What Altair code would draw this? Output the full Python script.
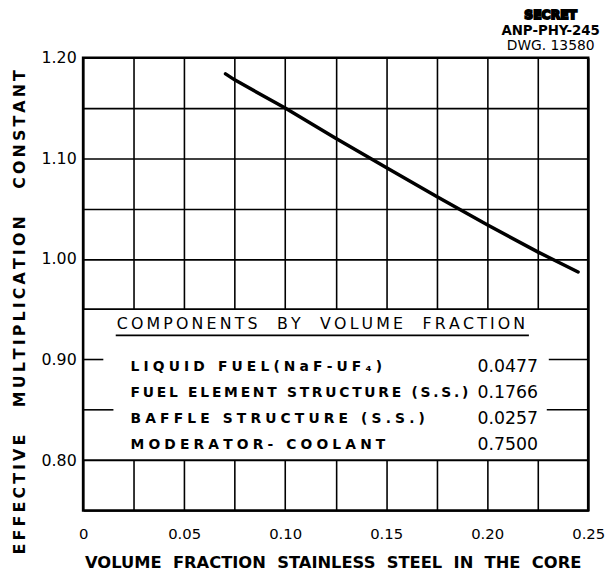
import altair as alt
import pandas as pd

# ---------------- data ----------------
steel_fraction = [0.0705, 0.075, 0.100, 0.125, 0.150, 0.175, 0.200, 0.225, 0.245]
k_effective = [1.184, 1.178, 1.150, 1.120, 1.091, 1.062, 1.034, 1.007, 0.987]

x_ticks = [0, 0.025, 0.05, 0.075, 0.10, 0.125, 0.15, 0.175, 0.20, 0.225, 0.25]
y_ticks = [0.75, 0.80, 0.85, 0.90, 0.95, 1.00, 1.05, 1.10, 1.15, 1.20]

table_title = "COMPONENTS BY VOLUME FRACTION"
components = ["LIQUID FUEL(NaF-UF\u2084)", "FUEL ELEMENT STRUCTURE (S.S.)",
              "BAFFLE STRUCTURE (S.S.)", "MODERATOR- COOLANT"]
fractions = ["0.0477", "0.1766", "0.0257", "0.7500"]

# table box sits between these grid rows; short grid stubs remain visible at its sides
box_x = [0.0, 0.25]
box_k = [0.80, 0.95]
stub_k = [0.90, 0.85, 0.90, 0.85]
stub_x0 = [0.0, 0.0, 0.2305, 0.2295]
stub_x1 = [0.010, 0.015, 0.25, 0.25]

stamp_lines = ["SECRET", "ANP-PHY-245", "DWG. 13580"]
x_title = "VOLUME FRACTION STAINLESS STEEL IN THE CORE"
y_title = "EFFECTIVE MULTIPLICATION CONSTANT"

# ---------------- styling ----------------
W, H = 511, 458
FONT = "DejaVu Sans"
NB = "\u00a0"
THIN = "\u2009"
HAIR = "\u200a"
GRID_W = 1.6


def spaced(text, letter_gap, word_gap):
    return word_gap.join(letter_gap.join(w) for w in text.split(" "))


x_scale = alt.Scale(domain=[0, 0.25], nice=False, zero=False)
y_scale = alt.Scale(domain=[0.75, 1.20], nice=False, zero=False)

x_axis = alt.Axis(
    values=x_ticks, grid=True, gridColor="black", gridWidth=GRID_W, gridOpacity=1,
    domain=False, ticks=False, labelFlush=False, labelOverlap=False,
    labelExpr="datum.value == 0 ? '0' : (abs(round(datum.value*1000) % 50) == 0 ? format(datum.value, '.2f') : '')",
    labelFont=FONT, labelFontSize=15, labelColor="black", labelPadding=16,
    title=spaced(x_title, "", NB + NB), titleFont=FONT, titleFontSize=16.5,
    titleFontWeight="bold", titleColor="black", titleX=W / 2 - 3, titleY=53,
    titleAlign="center", titleBaseline="middle",
)
y_axis = alt.Axis(
    values=y_ticks, grid=True, gridColor="black", gridWidth=GRID_W, gridOpacity=1,
    domain=False, ticks=False, labelOverlap=False,
    labelExpr="abs(round(datum.value*100) % 10) == 0 ? format(datum.value, '.2f') : ''",
    labelFont=FONT, labelFontSize=16, labelColor="black", labelPadding=7,
    title=spaced(y_title, THIN, NB * 5), titleFont=FONT, titleFontSize=16,
    titleFontWeight="bold", titleColor="black", titleAngle=270,
    titleX=-64, titleY=257, titleAlign="center", titleBaseline="middle",
)

X = lambda f: alt.X(f, scale=x_scale, axis=x_axis)
Y = lambda f: alt.Y(f, scale=y_scale, axis=y_axis)

one = pd.DataFrame({"a": [0]})

box = alt.Chart(pd.DataFrame({"x": [box_x[0]], "x_end": [box_x[1]],
                              "k": [box_k[0]], "k_end": [box_k[1]]})).mark_rect(
    fill="white", stroke="black", strokeWidth=GRID_W
).encode(x=X("x:Q"), x2="x_end:Q", y=Y("k:Q"), y2="k_end:Q")

stubs = alt.Chart(pd.DataFrame({"x": stub_x0, "x_end": stub_x1, "k": stub_k})).mark_rule(
    color="black", strokeWidth=GRID_W
).encode(x=X("x:Q"), x2="x_end:Q", y=Y("k:Q"))

curve = alt.Chart(pd.DataFrame({"x": steel_fraction, "k": k_effective})).mark_line(
    color="black", strokeWidth=3.5, strokeCap="round"
).encode(x=X("x:Q"), y=Y("k:Q"))

layers = [box, stubs, curve]

# table heading + underline
layers.append(alt.Chart(one).mark_text(
    text=spaced(table_title, THIN, THIN + NB * 2 + THIN + THIN), font=FONT, fontSize=16,
    align="left", baseline="middle", color="black"
).encode(x=alt.value(34), y=alt.value(269)))
layers.append(alt.Chart(one).mark_rule(color="black", strokeWidth=1.8).encode(
    x=alt.value(33), x2=alt.value(451), y=alt.value(281)))

# table rows
row_y0, row_dy = 313, 26.3
row_letter_gap = [THIN + HAIR, THIN, THIN + HAIR, THIN + HAIR]
for i, (name, frac) in enumerate(zip(components, fractions)):
    yy = row_y0 + i * row_dy
    lg = row_letter_gap[i]
    layers.append(alt.Chart(one).mark_text(
        text=spaced(name, lg, lg + NB + lg), font=FONT, fontSize=14,
        fontWeight="bold", align="left", baseline="middle", color="black"
    ).encode(x=alt.value(48), y=alt.value(yy)))
    layers.append(alt.Chart(one).mark_text(
        text=frac, font=FONT, fontSize=17.5, align="left", baseline="middle",
        color="black"
    ).encode(x=alt.value(399), y=alt.value(yy)))

# drawing stamp, top right
stamp_y = [-43, -27, -12]
stamp_style = [dict(fontSize=12.5, fontWeight="bold", stroke="black", strokeWidth=1.8),
               dict(fontSize=13.5, fontWeight="bold"),
               dict(fontSize=14, fontWeight="normal")]
for txt, yy, st in zip(stamp_lines, stamp_y, stamp_style):
    layers.append(alt.Chart(one).mark_text(
        text=txt, font=FONT, align="center", baseline="middle", color="black", **st
    ).encode(x=alt.value(473), y=alt.value(yy)))

# plot frame on top
layers.append(alt.Chart(one).mark_rect(
    fill="transparent", stroke="black", strokeWidth=2.6
).encode(x=alt.value(0), x2=alt.value(W), y=alt.value(0), y2=alt.value(H)))

chart = alt.layer(*layers).properties(
    width=W, height=H,
    padding={"left": 76, "top": 47, "right": 17, "bottom": 60},
    autosize=alt.AutoSizeParams(type="none"),
    background="white",
).configure_view(strokeWidth=0)

chart.save("out.html", embed_options={"renderer": "svg", "actions": False})
